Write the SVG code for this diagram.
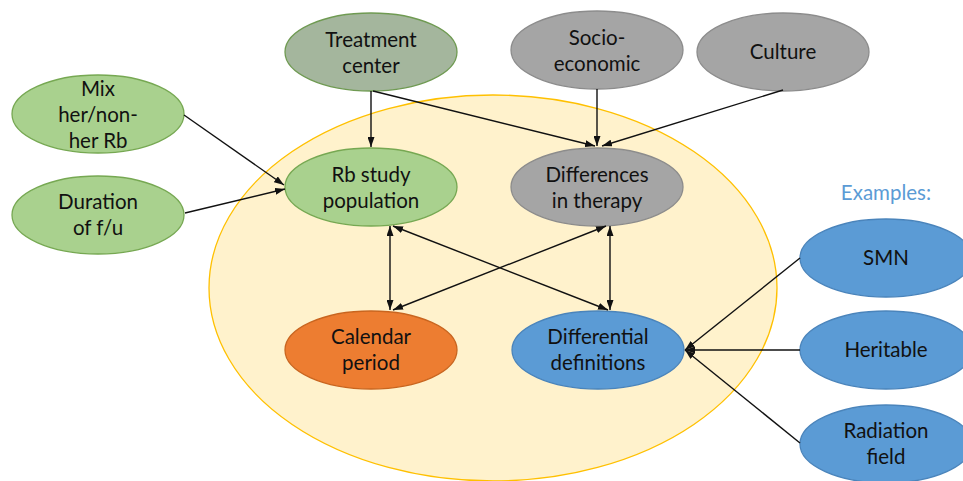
<svg xmlns="http://www.w3.org/2000/svg" width="963" height="481" viewBox="0 0 963 481">
<style>
text{font-family:Lato,"Open Sans","Liberation Sans",sans-serif;font-size:20.5px;fill:#111;text-anchor:middle}
.g{fill:#a9d18e;stroke:#76a852;stroke-width:1.3}
.tc{fill:#a4b69d;stroke:#6f9a52;stroke-width:1.3}
.gr{fill:#a5a5a5;stroke:#8c8c8c;stroke-width:1.3}
.or{fill:#ed7d31;stroke:#c9651f;stroke-width:1.3}
.bl{fill:#5b9bd5;stroke:#4a84bb;stroke-width:1.3}
.e line{stroke:#111;stroke-width:1.4;fill:none}
</style>
<defs>
<marker id="ah" viewBox="0 0 10 7" refX="10" refY="3.5" markerWidth="10" markerHeight="7" markerUnits="userSpaceOnUse" orient="auto-start-reverse">
<path d="M0,0 L10,3.5 L0,7 Z" fill="#111"/>
</marker>
</defs>
<g id="context"><ellipse cx="493" cy="288" rx="284" ry="193" fill="#fff2cc" stroke="#ffc000" stroke-width="1.3"/></g>
<g id="treatment-center"><ellipse class="tc" cx="371" cy="52" rx="86" ry="39"/><text x="371" y="47">Treatment</text><text x="371" y="73">center</text></g>
<g id="mix"><ellipse class="g" cx="98" cy="114" rx="86" ry="39"/><text x="98" y="96">Mix</text><text x="98" y="122">her/non-</text><text x="98" y="148">her Rb</text></g>
<g id="duration"><ellipse class="g" cx="98" cy="215" rx="86" ry="39"/><text x="98" y="209">Duration</text><text x="98" y="235">of f/u</text></g>
<g id="rb-study"><ellipse class="g" cx="371" cy="187" rx="86" ry="39"/><text x="371" y="182">Rb study</text><text x="371" y="208">population</text></g>
<g id="socio"><ellipse class="gr" cx="597" cy="50" rx="86" ry="39"/><text x="597" y="45">Socio-</text><text x="597" y="71">economic</text></g>
<g id="culture"><ellipse class="gr" cx="783" cy="52" rx="86" ry="39"/><text x="783" y="59">Culture</text></g>
<g id="diff-therapy"><ellipse class="gr" cx="597" cy="187" rx="86" ry="39"/><text x="597" y="182">Differences</text><text x="597" y="208">in therapy</text></g>
<g id="calendar"><ellipse class="or" cx="371" cy="350" rx="86" ry="39"/><text x="371" y="344">Calendar</text><text x="371" y="370">period</text></g>
<g id="diff-def"><ellipse class="bl" cx="598" cy="350" rx="86" ry="39"/><text x="598" y="344">Differential</text><text x="598" y="370">definitions</text></g>
<g id="examples-label"><text x="886" y="200" style="fill:#5b9bd5">Examples:</text></g>
<g id="smn"><ellipse class="bl" cx="886" cy="258" rx="86" ry="39"/><text x="886" y="265">SMN</text></g>
<g id="heritable"><ellipse class="bl" cx="886" cy="350" rx="86" ry="39"/><text x="886" y="357">Heritable</text></g>
<g id="radiation"><ellipse class="bl" cx="886" cy="444" rx="86" ry="39"/><text x="886" y="438">Radiation</text><text x="886" y="464">field</text></g>
<g id="connectors" class="e">
<line x1="371" y1="91" x2="371" y2="147" marker-end="url(#ah)"/>
<line x1="373" y1="91" x2="595" y2="146" marker-end="url(#ah)"/>
<line x1="597" y1="89" x2="597" y2="146" marker-end="url(#ah)"/>
<line x1="783" y1="90" x2="602" y2="146" marker-end="url(#ah)"/>
<line x1="184" y1="115" x2="284" y2="185" marker-end="url(#ah)"/>
<line x1="185" y1="213" x2="285" y2="189" marker-end="url(#ah)"/>
<line x1="390" y1="226" x2="390" y2="310" marker-start="url(#ah)" marker-end="url(#ah)"/>
<line x1="393" y1="226" x2="608" y2="310" marker-start="url(#ah)" marker-end="url(#ah)"/>
<line x1="606" y1="226" x2="393" y2="310" marker-start="url(#ah)" marker-end="url(#ah)"/>
<line x1="610" y1="226" x2="610" y2="310" marker-start="url(#ah)" marker-end="url(#ah)"/>
<line x1="800" y1="258" x2="685" y2="350" marker-end="url(#ah)"/>
<line x1="800" y1="350" x2="685" y2="350" marker-end="url(#ah)"/>
<line x1="800" y1="443" x2="685" y2="350" marker-end="url(#ah)"/>
</g>
</svg>
